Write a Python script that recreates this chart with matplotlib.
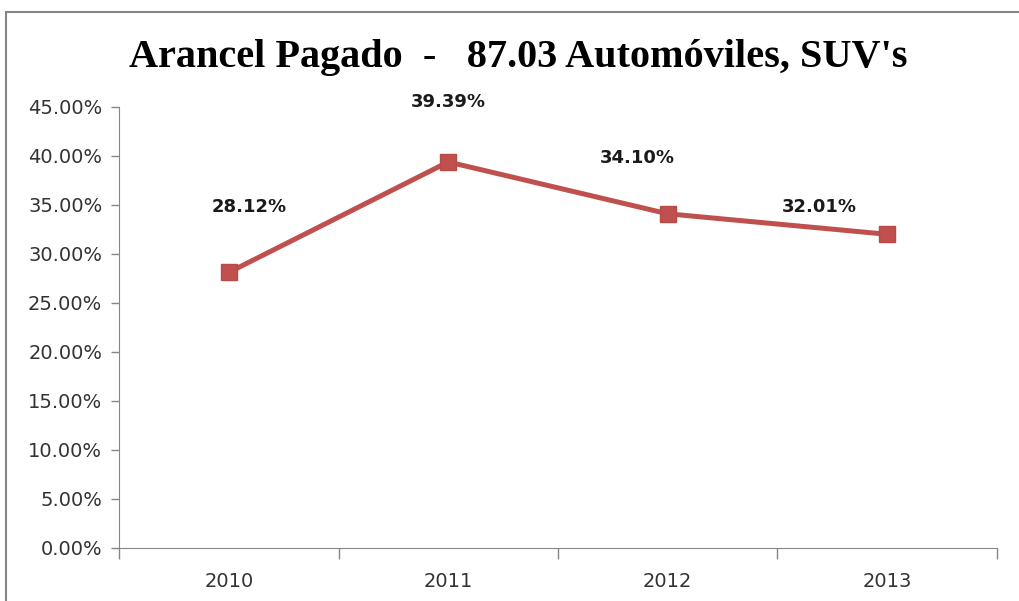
import matplotlib.pyplot as plt
from matplotlib.patches import Rectangle

# data
years = ['2010', '2011', '2012', '2013']
arancel = [0.2812, 0.3939, 0.3410, 0.3201]
labels = ['28.12%', '39.39%', '34.10%', '32.01%']
# manual label offsets (points), as placed in the original
lbl_dx = [15, 0, -22, -49]
lbl_dy = [47, 43, 40, 20]

fig = plt.figure(figsize=(10.19, 6.01), dpi=100)
ax = fig.add_axes([0.1168, 0.0882, 0.8616, 0.7338])

# outer chart border
fig.patches.append(Rectangle((0.006, -0.05), 1.2, 1.03, transform=fig.transFigure,
                             fill=False, edgecolor='#868686', linewidth=1.5))

x = range(len(years))
ax.plot(x, arancel, color='#C0504D', linewidth=3.6, marker='s', markersize=12,
        markerfacecolor='#C0504D', markeredgecolor='#B84A47')

for i, t in enumerate(labels):
    ax.annotate(t, (i, arancel[i]), xytext=(lbl_dx[i], lbl_dy[i]), textcoords='offset points',
                ha='center', va='center', fontsize=13, fontweight='bold', color='#1a1a1a')

ax.set_xlim(-0.5, 3.5)
ax.set_ylim(0, 0.45)
ax.set_yticks([i * 0.05 for i in range(10)])
ax.set_yticklabels(['%.2f%%' % (i * 5) for i in range(10)])
ax.set_xticks(x)
ax.set_xticklabels(years)
ax.set_xticks([-0.5, 0.5, 1.5, 2.5, 3.5], minor=True)
ax.tick_params(axis='x', which='major', length=0, pad=17)
ax.tick_params(axis='x', which='minor', length=8, color='#868686', width=1)
ax.tick_params(axis='y', length=6, color='#868686', width=1, pad=6)
for lab in ax.get_xticklabels() + ax.get_yticklabels():
    lab.set_fontsize(14)
    lab.set_color('#333333')

for s in ['top', 'right']:
    ax.spines[s].set_visible(False)
ax.spines['left'].set_color('#868686')
ax.spines['bottom'].set_color('#868686')

fig.text(0.509, 0.905, "Arancel Pagado  -   87.03 Automóviles, SUV's", ha='center', va='center',
         fontsize=29, fontweight='bold', family='Liberation Serif')

fig.savefig('out.png', dpi=100)
